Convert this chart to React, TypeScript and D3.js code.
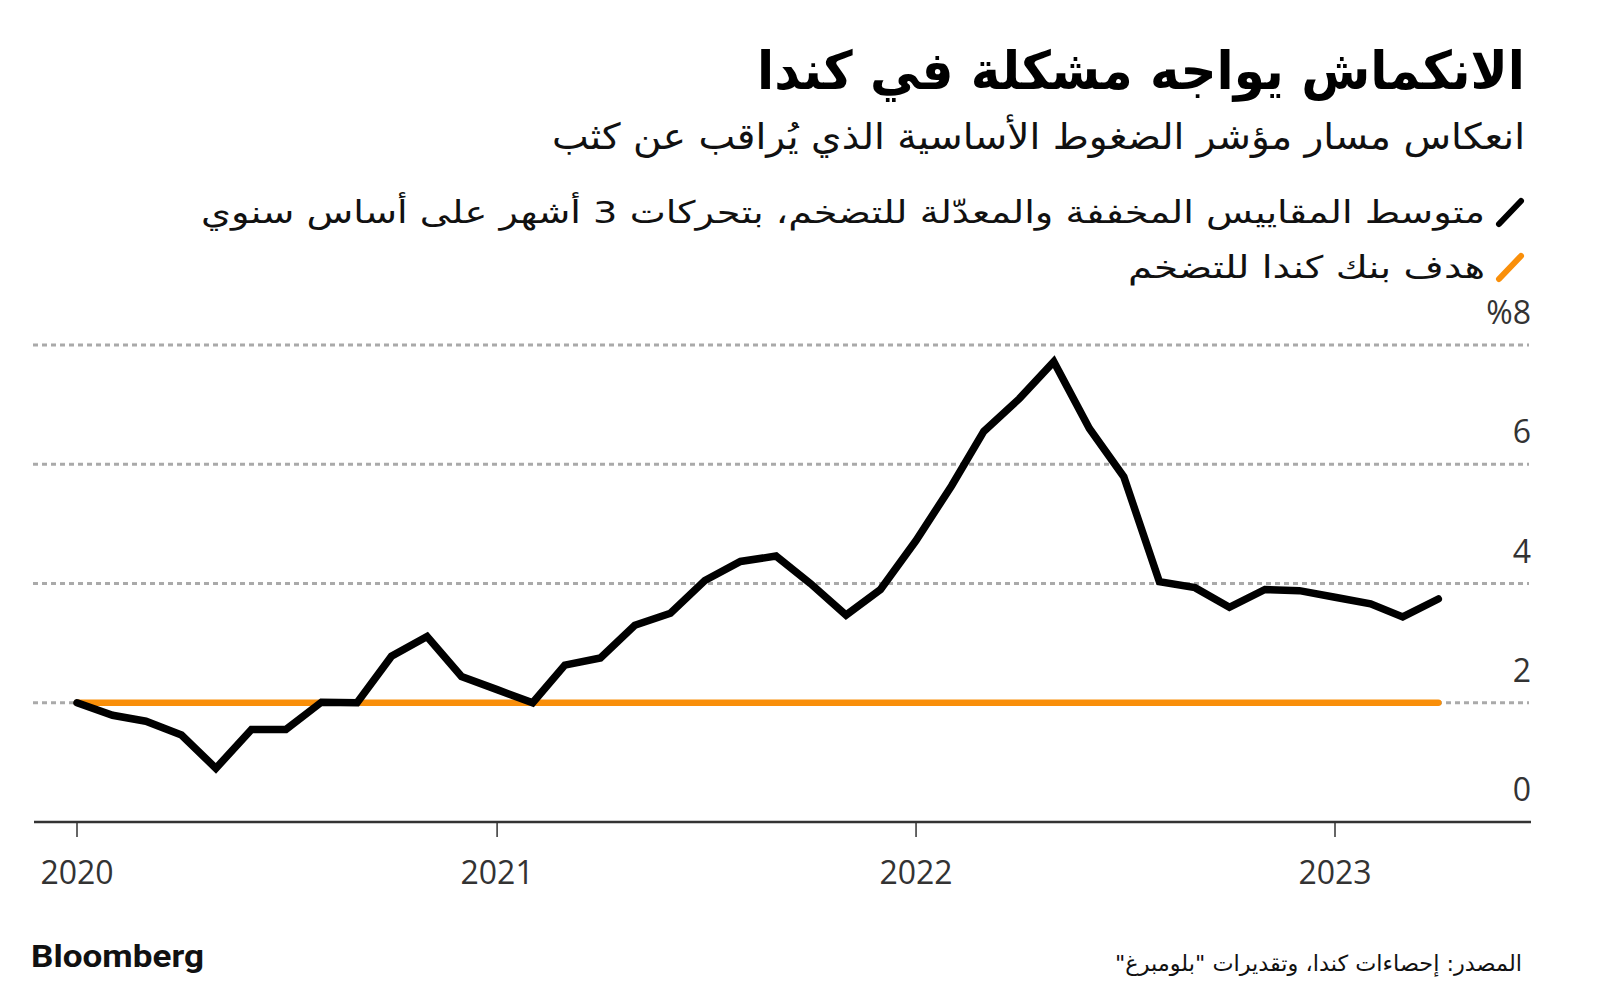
import React from "react";
import * as d3 from "d3";

const months = [
  "2020-01","2020-02","2020-03","2020-04","2020-05","2020-06","2020-07","2020-08","2020-09","2020-10","2020-11","2020-12",
  "2021-01","2021-02","2021-03","2021-04","2021-05","2021-06","2021-07","2021-08","2021-09","2021-10","2021-11","2021-12",
  "2022-01","2022-02","2022-03","2022-04","2022-05","2022-06","2022-07","2022-08","2022-09","2022-10","2022-11","2022-12",
  "2023-01","2023-02","2023-03","2023-04",
];
const coreInflation = [
  2.0, 1.79, 1.69, 1.46, 0.9, 1.55, 1.55, 2.01, 2.0, 2.78, 3.11, 2.44,
  2.22, 2.0, 2.63, 2.75, 3.3, 3.5, 4.05, 4.37, 4.46, 4.0, 3.47, 3.9,
  4.72, 5.64, 6.55, 7.1, 7.72, 6.6, 5.79, 4.03, 3.93, 3.6, 3.9, 3.88,
  3.77, 3.66, 3.44, 3.74,
];
const targetRate = 2;
const yTicks = [0, 2, 4, 6, 8];
const yTickLabels = ["0", "2", "4", "6", "%8"];
const xTickYears = [2020, 2021, 2022, 2023];

const title = "الانكماش يواجه مشكلة في كندا";
const subtitle = "انعكاس مسار مؤشر الضغوط الأساسية الذي يُراقب عن كثب";
const legendLabels = [
  "متوسط المقاييس المخففة والمعدّلة للتضخم، بتحركات 3 أشهر على أساس سنوي",
  "هدف بنك كندا للتضخم",
];
const source = "المصدر: إحصاءات كندا، وتقديرات \"بلومبرغ\"";

const W = 1600;
const H = 998;
const AR = "'DejaVu Sans', sans-serif";
const NUM = "'Open Sans', 'Noto Sans', sans-serif";

export default function App() {
  const parse = d3.timeParse("%Y-%m");
  const dates = months.map((m) => parse(m) as Date);
  const x = d3
    .scaleTime()
    .domain([new Date(2020, 0, 1), new Date(2023, 0, 1)])
    .range([77, 1335]);
  const y = d3.scaleLinear().domain([0, 8]).range([822, 345]);

  const line = d3
    .line<number>()
    .x((_, i) => x(dates[i]))
    .y((d) => y(d));
  const target = months.map(() => targetRate);

  return (
    <div style={{ position: "absolute", left: 0, top: 0 }}>
      <svg width={W} height={H} style={{ display: "block", background: "#fff" }}>
        <rect x={0} y={0} width={W} height={H} fill="#fff" />
        {/* Title */}
        <text x={1525} y={89} direction="rtl" textAnchor="start" fontFamily={AR} fontWeight="bold" fontSize={53} fill="#000" textLength={768} lengthAdjust="spacingAndGlyphs">
          {title}
        </text>
        <text x={1525} y={149} direction="rtl" textAnchor="start" fontFamily={AR} fontSize={36} fill="#111" textLength={973} lengthAdjust="spacingAndGlyphs">
          {subtitle}
        </text>
        {/* Legend */}
        <line x1={1499} y1={224} x2={1521} y2={201} stroke="#000" strokeWidth={6} strokeLinecap="round" />
        <text x={1485} y={223} direction="rtl" textAnchor="start" fontFamily={AR} fontSize={31} fill="#111" textLength={1284} lengthAdjust="spacingAndGlyphs">
          {legendLabels[0]}
        </text>
        <line x1={1499} y1={279} x2={1521} y2={256} stroke="#f98f0a" strokeWidth={6} strokeLinecap="round" />
        <text x={1485} y={278} direction="rtl" textAnchor="start" fontFamily={AR} fontSize={31} fill="#111" textLength={357} lengthAdjust="spacingAndGlyphs">
          {legendLabels[1]}
        </text>

        {/* Grid */}
        {yTicks.filter((t) => t > 0).map((t) => (
          <line key={t} x1={33} x2={1529} y1={y(t)} y2={y(t)} stroke="#aaaaaa" strokeWidth={3} strokeDasharray="5 4" />
        ))}
        {yTicks.map((t, i) => (
          <text key={t} x={1531} y={y(t) - 21} textAnchor="end" fontFamily={NUM} fontSize={32} fill="#333">
            {yTickLabels[i]}
          </text>
        ))}

        {/* Axis */}
        <line x1={34} x2={1531} y1={822} y2={822} stroke="#333" strokeWidth={2.5} />
        {xTickYears.map((yr) => {
          const xx = x(new Date(yr, 0, 1));
          return (
            <g key={yr}>
              <line x1={xx} x2={xx} y1={822} y2={837} stroke="#333" strokeWidth={1.5} />
              <text x={xx} y={884} textAnchor="middle" fontFamily={NUM} fontSize={32} fill="#333">
                {yr}
              </text>
            </g>
          );
        })}

        {/* Series */}
        <path d={line(target) || ""} fill="none" stroke="#f98f0a" strokeWidth={6.5} strokeLinecap="round" />
        <path d={line(coreInflation) || ""} fill="none" stroke="#000" strokeWidth={7.5} strokeLinejoin="miter" strokeLinecap="round" />

        {/* Footer */}
        <text x={31} y={967} fontFamily="'Roboto', 'Inter', sans-serif" fontWeight="bold" fontSize={32} fill="#111" textLength={173} lengthAdjust="spacingAndGlyphs">
          Bloomberg
        </text>
        <text x={1522} y={971} direction="rtl" textAnchor="start" fontFamily={AR} fontSize={22} fill="#111" textLength={407} lengthAdjust="spacingAndGlyphs">
          {source}
        </text>
      </svg>
    </div>
  );
}
